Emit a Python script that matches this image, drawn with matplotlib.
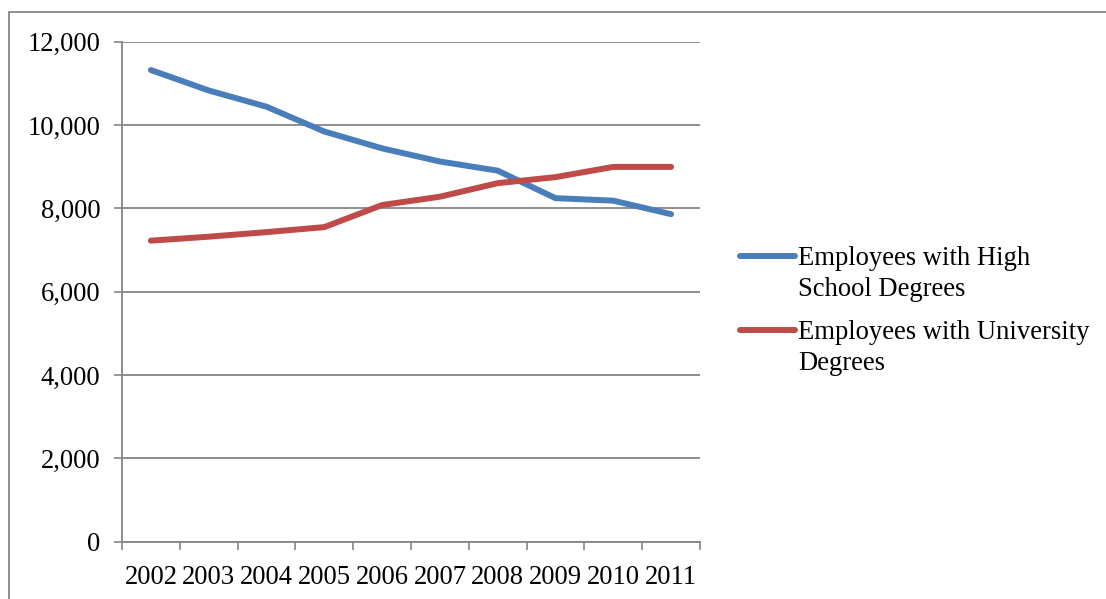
import matplotlib
matplotlib.use("Agg")
import matplotlib.pyplot as plt
from matplotlib.lines import Line2D
from matplotlib.patches import Rectangle
from matplotlib.ticker import FuncFormatter

years = ["2002", "2003", "2004", "2005", "2006", "2007", "2008", "2009", "2010", "2011"]
high_school = [11320, 10830, 10440, 9845, 9440, 9125, 8905, 8245, 8185, 7860]
university = [7225, 7320, 7430, 7550, 8080, 8280, 8605, 8750, 8995, 8995]
series_names = ["Employees with High\nSchool Degrees", "Employees with University\nDegrees"]
series_colors = ["#4A7EBB", "#BE4B48"]
y_ticks = [0, 2000, 4000, 6000, 8000, 10000, 12000]

GRAY = "#868686"
FONT = "Liberation Serif"
FS = 19.2

plt.rcParams["font.family"] = [FONT, "DejaVu Serif"]

W, H = 1106, 599
fig = plt.figure(figsize=(W / 100, H / 100), dpi=100)
fig.patch.set_facecolor("white")

# plot area in pixels
left, right, top, bottom = 122, 700, 41.7, 541.7
ax = fig.add_axes([left / W, 1 - bottom / H, (right - left) / W, (bottom - top) / H])

x = list(range(len(years)))
for vals, color in zip([high_school, university], series_colors):
    ax.plot(x, vals, color=color, lw=4.3, solid_capstyle="round", solid_joinstyle="round", zorder=3)

ax.set_xlim(-0.5, len(years) - 0.5)
ax.set_ylim(0, 12000)
ax.set_yticks(y_ticks)
ax.yaxis.set_major_formatter(FuncFormatter(lambda v, p: f"{int(v):,}"))
ax.grid(axis="y", color=GRAY, lw=1.3)
ax.set_axisbelow(True)

# category boundaries as major ticks, labels on minor ticks
ax.set_xticks([i - 0.5 for i in range(len(years) + 1)])
ax.set_xticklabels([])
ax.set_xticks(x, minor=True)
ax.set_xticklabels(years, minor=True, fontsize=FS, fontfamily=FONT)
ax.tick_params(axis="x", which="major", direction="out", length=6, width=1.2, color=GRAY)
ax.tick_params(axis="x", which="minor", length=0, pad=17)
ax.tick_params(axis="y", direction="out", length=5.5, width=1.2, color=GRAY, pad=10, labelsize=FS)
for lbl in ax.get_yticklabels():
    lbl.set_fontfamily(FONT)

for side in ["top", "right"]:
    ax.spines[side].set_visible(False)
for side in ["left", "bottom"]:
    ax.spines[side].set_color(GRAY)
    ax.spines[side].set_linewidth(1.3)

# legend drawn at right, handle aligned to first text line
legend_rows = [256, 330]
line_step = 31
for name, color, yl in zip(series_names, series_colors, legend_rows):
    fig.add_artist(Line2D([740 / W, 795 / W], [1 - yl / H, 1 - yl / H], color=color, lw=4.3,
                          solid_capstyle="round", transform=fig.transFigure))
    for k, part in enumerate(name.split("\n")):
        fig.text(798 / W, 1 - (yl + 9 + k * line_step) / H, part, fontsize=FS, fontfamily=FONT,
                 va="baseline", ha="left")

# outer chart border
fig.add_artist(Rectangle((9 / W, -0.05), 1.2, 1.05 - 12 / H, transform=fig.transFigure,
                         fill=False, edgecolor=GRAY, lw=1.3))

fig.savefig("out.png", dpi=100)
